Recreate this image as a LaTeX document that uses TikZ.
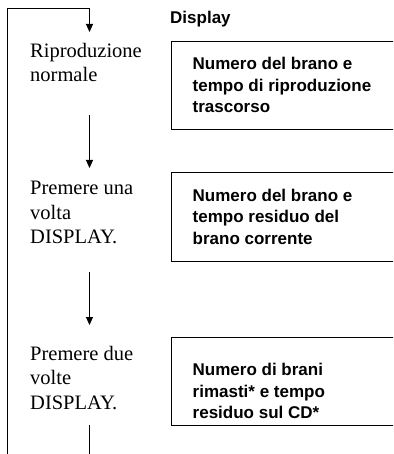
\documentclass[tikz,border=0pt]{standalone}
\usepackage{fontspec}
\setmainfont{Liberation Serif}
\setsansfont{Liberation Sans}
\usetikzlibrary{arrows.meta,positioning}

\tikzset{
  steptext/.style={anchor=north west,inner sep=0pt,align=left,
    font=\fontsize{20.5}{24.5}\selectfont},
  dispbox/.style={draw,line width=1pt,anchor=north west,inner sep=0pt,
    minimum width=240pt},
  disptext/.style={anchor=north west,inner sep=0pt,align=left,
    font=\sffamily\bfseries\fontsize{17}{21.5}\selectfont},
  flow/.style={line width=1pt,-{Triangle[width=7pt,length=8pt]}},
  loopline/.style={line width=1pt}
}

\begin{document}
\begin{tikzpicture}[x=1pt,y=-1pt]
  \clip (0,0) rectangle (393,454);

  % header over the display column
  \node[disptext,anchor=base west] (head) at (170,24) {Display};

  % display boxes (open to the right, cut by the page edge)
  \node[dispbox,minimum height=88pt] (box1) at (171,41) {};
  \node[dispbox,minimum height=89pt] (box2) at (171,172) {};
  \node[dispbox,minimum height=88pt] (box3) at (171,337) {};

  \node[disptext] (disp1) at (192.5,57) {Numero del brano e\\tempo di riproduzione\\trascorso};
  \node[disptext] (disp2) at (192.5,188.5) {Numero del brano e\\tempo residuo del\\brano corrente};
  \node[disptext] (disp3) at (192.5,363) {Numero di brani\\rimasti* e tempo\\residuo sul CD*};

  % steps
  \node[steptext] (step1) at (30,43) {Riproduzione\\normale};
  \node[steptext] (step2) at (30,181) {Premere una\\volta\\DISPLAY.};
  \node[steptext] (step3) at (30,346) {Premere due\\volte\\DISPLAY.};

  % arrow ends
  \coordinate (in1) at (89.5,32);
  \coordinate (out1) at (89.5,115);
  \coordinate (in2) at (89.5,168);
  \coordinate (out2) at (89.5,272);
  \coordinate (in3) at (89.5,325);
  \coordinate (out3) at (89.5,425);
  \coordinate (back) at (7.5,460);

  % flow and loop back to the top
  \draw[flow] (back) |- ([yshift=23pt]in1) -- (in1);
  \draw[flow] (out1) -- (in2);
  \draw[flow] (out2) -- (in3);
  \draw[loopline] (out3) -- ++(0,35);
\end{tikzpicture}
\end{document}
